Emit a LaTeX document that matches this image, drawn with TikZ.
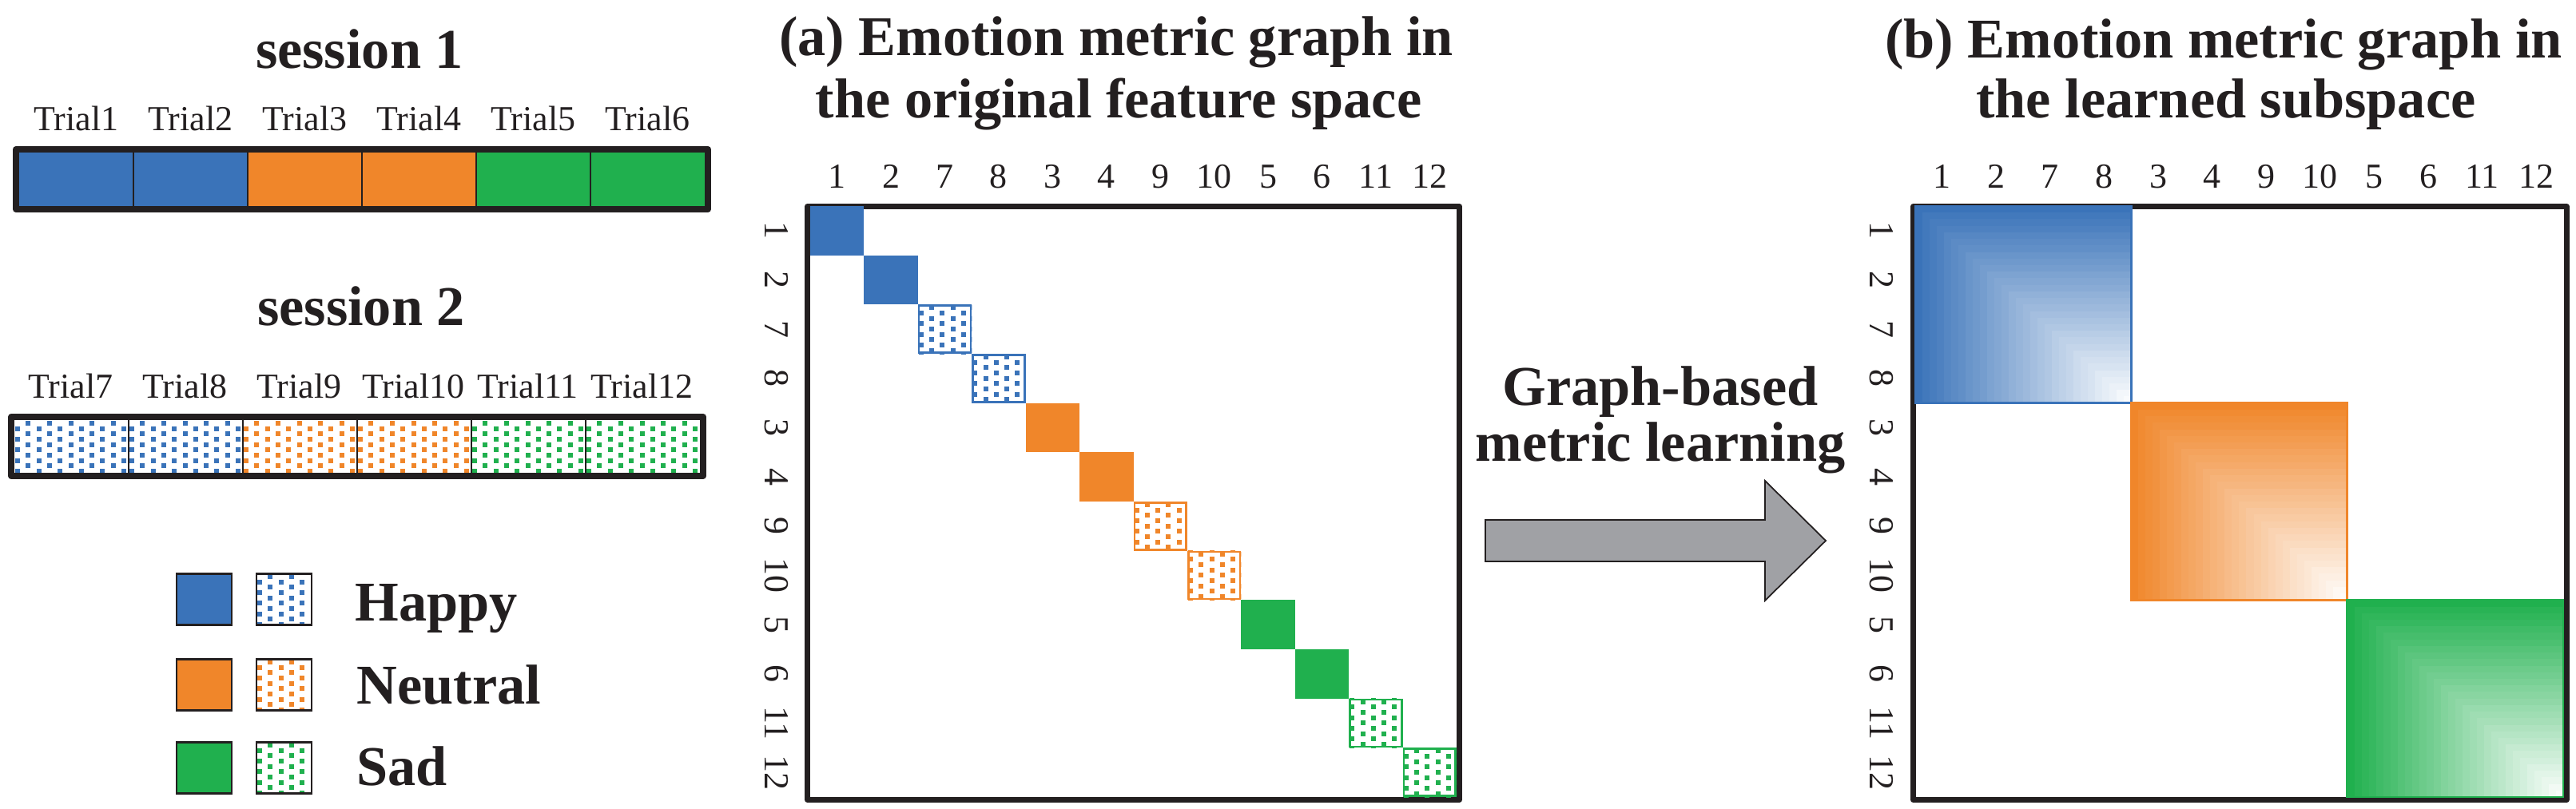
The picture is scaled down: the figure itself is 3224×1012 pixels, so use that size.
\documentclass[tikz,border=0pt]{standalone}
\usepackage{fontspec}
\setmainfont{Liberation Serif}
\definecolor{cblue}{RGB}{58,115,185}
\definecolor{corange}{RGB}{240,134,42}
\definecolor{cgreen}{RGB}{32,176,78}
\definecolor{cblack}{RGB}{35,31,32}
\definecolor{cgray}{RGB}{160,161,165}
\tikzset{
  titletext/.style={font=\fontsize{20}{24}\selectfont\bfseries, text=cblack, inner sep=0pt, anchor=base},
  legtext/.style={titletext, anchor=base west},
  trialtext/.style={font=\fontsize{12.5}{15}\selectfont, text=cblack, inner sep=0pt, anchor=base},
  axistext/.style={font=\fontsize{12.5}{15}\selectfont, text=cblack, inner sep=0pt, anchor=base},
  sideaxis/.style={axistext, rotate=-90},
  barframe/.style={draw=cblack, line width=2.3pt, line join=round},
  divider/.style={draw=cblack, line width=0.6pt},
  matframe/.style={draw=cblack, line width=2pt, line join=round},
  legbox/.style={draw=cblack, line width=0.85pt},
  dotedge/.style={draw=#1, line width=0.75pt},
  bigarrow/.style={fill=cgray, draw=cblack, line width=0.5pt, line join=miter},
}
% dotted fill of a rectangle: x0 y0 x1 y1 colour
\newcommand\dotpat[5]{%
  \begin{scope}
    \clip (#1,#2) rectangle (#3,#4);
    \pgfmathtruncatemacro\dpnc{(#3-(#1))/13.3+1}%
    \pgfmathtruncatemacro\dpnr{(#4-(#2))/13.3+1}%
    \foreach \ii in {0,...,\dpnc}{%
      \foreach \jj in {0,...,\dpnr}{%
        \pgfmathsetmacro\dpx{#1+4+13.3*\ii}%
        \pgfmathsetmacro\dpy{#2+4+13.3*\jj+6.65*mod(\ii,2)-6.65}%
        \fill[#5] (\dpx-3,\dpy-3) rectangle (\dpx+3,\dpy+3);
      }}
  \end{scope}}
% corner gradient block: x0 y0 x1 y1 colour
\newcommand\gradblock[5]{%
  \foreach \gk in {0,...,29}{%
    \pgfmathsetmacro\gx{#1+(#3-(#1))*\gk/30}%
    \pgfmathsetmacro\gy{#2+(#4-(#2))*\gk/30}%
    \pgfmathtruncatemacro\gp{100-100*\gk/30}%
    \fill[#5!\gp!white] (\gx,\gy) rectangle (#3,#4);
  }
  \draw[#5, line width=0.7pt] (#1,#2) rectangle (#3,#4);
}
\begin{document}
\begin{tikzpicture}[x=0.01cm, y=-0.01cm]
\useasboundingbox (0,0) rectangle (3224,1012);

% ---------------- session 1
\node[titletext] (s1title) at (450,85) {session 1};
\foreach \nn in {1,...,6}
  \node[trialtext] (tr\nn) at ({95.5+143*(\nn-1)},163) {Trial\nn};
\foreach \nn/\cl in {1/cblue,2/cblue,3/corange,4/corange,5/cgreen,6/cgreen}
  \fill[\cl] ({24+143*(\nn-1)},191) rectangle ({24+143*\nn},258);
\foreach \nn in {1,...,5}
  \draw[divider] ({24+143*\nn},191) -- ({24+143*\nn},258);
\draw[barframe] (20,187) rectangle (886,262);

% ---------------- session 2
\node[titletext] (s2title) at (452,407) {session 2};
\foreach \nn in {7,...,12}
  \node[trialtext] (tr\nn) at ({88.5+143*(\nn-7)},498) {Trial\nn};
\foreach \nn/\cl in {1/cblue,2/cblue,3/corange,4/corange,5/cgreen,6/cgreen}{
  \pgfmathsetmacro\xa{18+143*(\nn-1)}
  \pgfmathsetmacro\xb{18+143*\nn}
  \dotpat{\xa}{526}{\xb}{592}{\cl}
}
\foreach \nn in {1,...,5}
  \draw[divider] ({18+143*\nn},526) -- ({18+143*\nn},592);
\draw[barframe] (14,522) rectangle (880,596);

% ---------------- legend
\foreach \cl/\yy in {cblue/718,corange/825,cgreen/929}{
  \pgfmathsetmacro\yb{\yy+64}
  \filldraw[fill=\cl, legbox] (221,\yy) rectangle (290,\yb);
  \dotpat{321}{\yy}{390}{\yb}{\cl}
  \draw[legbox] (321,\yy) rectangle (390,\yb);
}
\node[legtext] (lhappy) at (444,777) {Happy};
\node[legtext] (lneutral) at (446,881) {Neutral};
\node[legtext] (lsad) at (446,983) {Sad};

% ---------------- matrix (a)
\node[titletext] (tia1) at (1397,70) {(a) Emotion metric graph in};
\node[titletext] (tia2) at (1400,147) {the original feature space};
\draw[matframe] (1010.5,258.5) rectangle (1826.5,1001.5);
\foreach \ci/\cl in {0/cblue,1/cblue,4/corange,5/corange,8/cgreen,9/cgreen}
  \fill[\cl] ({1014+67.42*\ci},{258+61.67*\ci}) rectangle ({1014+67.42*(\ci+1)},{258+61.67*(\ci+1)});
\foreach \ci/\cl in {2/cblue,3/cblue,6/corange,7/corange,10/cgreen,11/cgreen}{
  \pgfmathsetmacro\xa{1014+67.42*\ci}
  \pgfmathsetmacro\xb{1014+67.42*(\ci+1)}
  \pgfmathsetmacro\ya{258+61.67*\ci}
  \pgfmathsetmacro\yb{258+61.67*(\ci+1)}
  \dotpat{\xa}{\ya}{\xb}{\yb}{\cl}
  \draw[dotedge=\cl] (\xa+1.3,\ya+1.3) rectangle (\xb-1.3,\yb-1.3);
}
\foreach \lab [count=\kk] in {1,2,7,8,3,4,9,10,5,6,11,12}{
  \node[axistext] (ta\kk) at ({1014+67.42*(\kk-0.5)},235) {\lab};
  \node[sideaxis] (la\kk) at (957,{258+61.67*(\kk-0.5)}) {\lab};
}

% ---------------- arrow
\node[titletext] (arrl1) at (2078,507) {Graph-based};
\node[titletext] (arrl2) at (2078,577) {metric learning};
\draw[bigarrow] (1859,651) -- (2209,651) -- (2209,602) -- (2285,677)
  -- (2209,752) -- (2209,703) -- (1859,703) -- cycle;

% ---------------- matrix (b)
\node[titletext] (tib1) at (2783,72) {(b) Emotion metric graph in};
\node[titletext] (tib2) at (2786,147) {the learned subspace};
\draw[matframe] (2394.5,258.5) rectangle (3212,1001.5);
\gradblock{2397}{258}{2667.3}{504.7}{cblue}
\gradblock{2667.3}{504.7}{2937.6}{751.3}{corange}
\gradblock{2937.6}{751.3}{3208}{998}{cgreen}
\foreach \lab [count=\kk] in {1,2,7,8,3,4,9,10,5,6,11,12}{
  \node[axistext] (tb\kk) at ({2397+67.58*(\kk-0.5)},235) {\lab};
  \node[sideaxis] (lb\kk) at (2340,{258+61.67*(\kk-0.5)}) {\lab};
}
\end{tikzpicture}
\end{document}
